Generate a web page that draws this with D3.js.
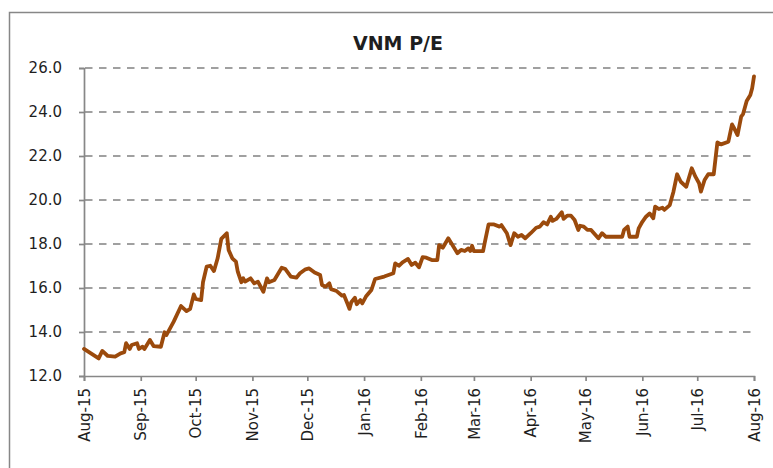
<!DOCTYPE html>
<html>
<head>
<meta charset="utf-8">
<script src="https://cdn.jsdelivr.net/npm/d3@7"></script>
<style>
body { margin: 0; background: #fff; }
svg text { font-family: "DejaVu Sans", sans-serif; fill: #1e1e1e; }
</style>
</head>
<body>
<svg id="chart" width="773" height="468"></svg>
<script>
const title = "VNM P/E";

const dates = [
  "2015-08-01", "2015-08-09", "2015-08-11", "2015-08-14", "2015-08-18", "2015-08-21", "2015-08-23", "2015-08-24",
  "2015-08-26", "2015-08-27", "2015-08-30", "2015-08-31", "2015-09-02", "2015-09-03", "2015-09-06", "2015-09-08",
  "2015-09-12", "2015-09-14", "2015-09-15", "2015-09-19", "2015-09-23", "2015-09-26", "2015-09-28", "2015-09-30",
  "2015-10-01", "2015-10-04", "2015-10-05", "2015-10-07", "2015-10-09", "2015-10-11", "2015-10-13", "2015-10-15",
  "2015-10-18", "2015-10-19", "2015-10-21", "2015-10-23", "2015-10-24", "2015-10-26", "2015-10-27", "2015-10-28",
  "2015-10-31", "2015-11-02", "2015-11-04", "2015-11-07", "2015-11-09", "2015-11-10", "2015-11-13", "2015-11-17",
  "2015-11-19", "2015-11-22", "2015-11-25", "2015-11-27", "2015-11-30", "2015-12-02", "2015-12-05", "2015-12-08",
  "2015-12-09", "2015-12-11", "2015-12-13", "2015-12-14", "2015-12-17", "2015-12-20", "2015-12-21", "2015-12-23",
  "2015-12-24", "2015-12-25", "2015-12-27", "2015-12-28", "2015-12-30", "2015-12-31", "2016-01-02", "2016-01-05",
  "2016-01-07", "2016-01-12", "2016-01-17", "2016-01-18", "2016-01-20", "2016-01-22", "2016-01-25", "2016-01-27",
  "2016-01-29", "2016-01-31", "2016-02-02", "2016-02-04", "2016-02-07", "2016-02-10", "2016-02-11", "2016-02-13",
  "2016-02-16", "2016-02-18", "2016-02-21", "2016-02-23", "2016-02-25", "2016-02-27", "2016-02-28", "2016-02-29",
  "2016-03-01", "2016-03-06", "2016-03-07", "2016-03-09", "2016-03-12", "2016-03-15", "2016-03-16", "2016-03-19",
  "2016-03-21", "2016-03-23", "2016-03-25", "2016-03-27", "2016-03-29", "2016-04-01", "2016-04-04", "2016-04-06",
  "2016-04-08", "2016-04-10", "2016-04-12", "2016-04-13", "2016-04-15", "2016-04-18", "2016-04-19", "2016-04-21",
  "2016-04-23", "2016-04-25", "2016-04-27", "2016-04-28", "2016-04-30", "2016-05-02", "2016-05-04", "2016-05-08",
  "2016-05-10", "2016-05-12", "2016-05-21", "2016-05-22", "2016-05-24", "2016-05-25", "2016-05-29", "2016-05-30",
  "2016-06-01", "2016-06-03", "2016-06-05", "2016-06-07", "2016-06-08", "2016-06-10", "2016-06-12", "2016-06-13",
  "2016-06-16", "2016-06-17", "2016-06-18", "2016-06-20", "2016-06-22", "2016-06-25", "2016-06-28", "2016-06-30",
  "2016-07-02", "2016-07-03", "2016-07-05", "2016-07-07", "2016-07-10", "2016-07-11", "2016-07-12", "2016-07-14",
  "2016-07-18", "2016-07-20", "2016-07-21", "2016-07-23", "2016-07-25", "2016-07-26", "2016-07-28", "2016-07-30",
  "2016-07-31", "2016-08-01"
];

const pe = [
  13.23, 12.80, 13.14, 12.91, 12.88, 13.03, 13.08, 13.49,
  13.23, 13.41, 13.49, 13.23, 13.33, 13.23, 13.64, 13.36,
  13.33, 13.99, 13.86, 14.47, 15.18, 14.95, 15.05, 15.71,
  15.50, 15.45, 16.26, 16.97, 17.01, 16.77, 17.35, 18.23,
  18.49, 17.73, 17.35, 17.20, 16.74, 16.26, 16.44, 16.29,
  16.44, 16.21, 16.29, 15.83, 16.44, 16.26, 16.36, 16.92,
  16.86, 16.52, 16.47, 16.67, 16.85, 16.89, 16.70, 16.59,
  16.14, 16.06, 16.21, 15.95, 15.86, 15.65, 15.68, 15.27,
  15.05, 15.35, 15.56, 15.26, 15.45, 15.30, 15.61, 15.91,
  16.41, 16.52, 16.67, 17.12, 17.01, 17.17, 17.32, 17.05,
  17.15, 16.94, 17.40, 17.38, 17.27, 17.27, 17.95, 17.83,
  18.26, 17.99, 17.58, 17.73, 17.68, 17.80, 17.68, 17.92,
  17.68, 17.68, 18.10, 18.89, 18.89, 18.79, 18.86, 18.49,
  17.95, 18.49, 18.33, 18.41, 18.26, 18.49, 18.74, 18.79,
  18.99, 18.89, 19.24, 19.05, 19.14, 19.44, 19.14, 19.29,
  19.29, 19.09, 18.64, 18.83, 18.79, 18.64, 18.64, 18.26,
  18.49, 18.33, 18.33, 18.64, 18.79, 18.33, 18.33, 18.71,
  19.01, 19.24, 19.39, 19.17, 19.70, 19.59, 19.65, 19.55,
  19.77, 20.08, 20.38, 21.17, 20.83, 20.60, 21.44, 21.06,
  20.76, 20.38, 20.91, 21.17, 21.17, 21.90, 22.62, 22.53,
  22.65, 23.44, 23.29, 22.95, 23.79, 23.90, 24.50, 24.77,
  25.08, 25.62
];

const yTicks = [12, 14, 16, 18, 20, 22, 24, 26];
const monthTicks = [
  "2015-08-01", "2015-09-01", "2015-10-01", "2015-11-01", "2015-12-01", "2016-01-01", "2016-02-01",
  "2016-03-01", "2016-04-01", "2016-05-01", "2016-06-01", "2016-07-01", "2016-08-01"
];

const parse = d3.timeParse("%Y-%m-%d");
const data = dates.map((d, i) => ({ date: parse(d), value: pe[i] }));

const svg = d3.select("#chart");
const plot = { left: 84, right: 754, top: 68, bottom: 376 };

// outer chart frame, cut off by the window on the right and bottom
svg.append("path")
  .attr("d", "M9.5,470 V12.5 H775")
  .attr("fill", "none")
  .attr("stroke", "#878787")
  .attr("stroke-width", 1.5);

svg.append("text")
  .attr("x", 398)
  .attr("y", 50)
  .attr("text-anchor", "middle")
  .attr("font-size", 19)
  .attr("font-weight", "bold")
  .text(title);

const x = d3.scaleTime()
  .domain([parse(monthTicks[0]), parse(monthTicks[monthTicks.length - 1])])
  .range([plot.left, plot.right]);

const y = d3.scaleLinear()
  .domain([12, 26])
  .range([plot.bottom, plot.top]);

// dashed gridlines
svg.append("g")
  .selectAll("line")
  .data(yTicks.filter(t => t !== 12))
  .join("line")
  .attr("x1", plot.left + 1)
  .attr("x2", plot.right + 1)
  .attr("y1", d => y(d))
  .attr("y2", d => y(d))
  .attr("stroke", "#a0a0a0")
  .attr("stroke-width", 1.9)
  .attr("stroke-dasharray", "7.5 6.5");

const yAxis = svg.append("g")
  .attr("transform", `translate(${plot.left},0)`)
  .call(d3.axisLeft(y).tickValues(yTicks).tickSize(5).tickPadding(17).tickFormat(d3.format(".1f")));

const xAxis = svg.append("g")
  .attr("transform", `translate(0,${plot.bottom})`)
  .call(d3.axisBottom(x).tickValues(monthTicks.map(parse)).tickSize(5).tickFormat(d3.timeFormat("%b-%y")));

[yAxis, xAxis].forEach(g => {
  g.select(".domain").attr("stroke", "#878787").attr("stroke-width", 1.7);
  g.selectAll(".tick line").attr("stroke", "#878787").attr("stroke-width", 1.7);
  g.selectAll("text").attr("font-size", 15).attr("font-family", "DejaVu Sans").attr("fill", "#1e1e1e");
});

xAxis.selectAll("text")
  .attr("text-anchor", "end")
  .attr("transform", "rotate(-90)")
  .attr("x", -12)
  .attr("y", 0)
  .attr("dy", "0.35em");

const line = d3.line()
  .x(d => x(d.date))
  .y(d => y(d.value));

svg.append("path")
  .datum(data)
  .attr("fill", "none")
  .attr("stroke", "#9b4a0c")
  .attr("stroke-width", 3.8)
  .attr("stroke-linejoin", "round")
  .attr("stroke-linecap", "round")
  .attr("d", line);
</script>
</body>
</html>
